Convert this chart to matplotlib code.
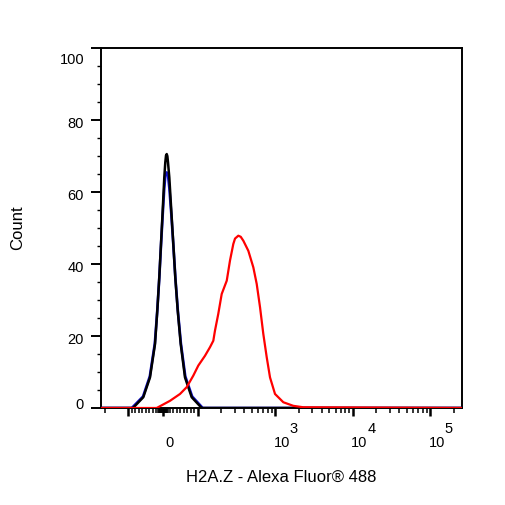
import numpy as np
import matplotlib
matplotlib.use('Agg')
import matplotlib.pyplot as plt
from matplotlib.transforms import ScaledTranslation

plt.rcParams['font.family'] = ['Liberation Sans', 'DejaVu Sans']

# ---- data (fluorescence value, count) ----
black_x = [-86.5, -56.8, -37.5, -23.0, -16.4, -10.7, -5.8, -0.9, 3.7, 6.6, 8.7, 10.7,
           12.6, 14.4, 18.2, 23.9, 29.7, 35.4, 42.4, 51.0, 63.4, 82.7, 112.6]
black_y = [0, 3.0, 8.5, 17.8, 27.1, 36.3, 45.6, 54.9, 64.1, 68.3, 70.2, 70.6,
           70.0, 68.3, 64.1, 54.9, 45.6, 36.3, 27.1, 17.8, 8.5, 3.0, 0]
blue_x = [-90, -57.5, -38, -23.5, -16.6, -10.8, -5.9, -1.0, 3.6, 6.6, 10.7,
          14.6, 18.4, 24.2, 30.0, 35.8, 42.8, 51.5, 64.2, 84.0, 116]
blue_y = [0, 3.2, 8.8, 18.0, 27.0, 36.0, 45.0, 53.5, 61.0, 64.5, 65.5,
          64.5, 61.0, 53.5, 45.0, 36.0, 27.0, 18.0, 8.8, 3.2, 0]
red_x = [-18.2, 20.2, 49.0, 68.3, 87.3, 101.8, 124, 144, 159, 167, 184, 204,
         237, 261, 288, 303, 334, 359, 388, 450, 522, 577, 637, 702, 777, 857, 994,
         1272, 1712, 2305]
red_y = [0, 2.0, 3.9, 5.8, 9.0, 11.8, 14.5, 16.9, 18.7, 21.5, 26.1, 31.7,
         35.4, 41.0, 45.6, 47.1, 47.9, 47.6, 46.5, 43.7, 39.1, 34.5, 28.0, 20.6, 14.1, 8.5, 3.9,
         1.6, 0.6, 0.2]

x_major = [-100, 0, 100, 1e3, 1e4, 1e5]
x_major_labels = ['', '0', '', '10', '10', '10']
exp_ticks = [1e3, 1e4, 1e5]
exp_labels = ['3', '4', '5']
y_major = [0, 20, 40, 60, 80, 100]

XLIM = (-225, 2.57e5)
YLIM = (0, 100)

fig = plt.figure(figsize=(5.06, 5.06), dpi=100)
W = H = 506
ax = fig.add_axes([101 / W, (H - 409) / H, (462 - 101) / W, (409 - 49.3) / H])
ax.set_xscale('symlog', linthresh=100, linscale=0.403, base=10)

def with_base(x, y):
    return np.r_[XLIM[0], x, XLIM[1]], np.r_[0, y, 0]

bx, by = with_base(blue_x, blue_y)
kx, ky = with_base(black_x, black_y)
rx, ry = with_base(red_x, red_y)
ax.plot(bx, by, color='#1010d0', lw=1.9, zorder=3, solid_joinstyle='round')
ax.plot(kx, ky, color='#000000', lw=1.8, zorder=4, solid_joinstyle='round')
ax.plot(rx, ry, color='#ff0000', lw=1.6, zorder=5, solid_joinstyle='round')

ax.set_xlim(*XLIM)
ax.set_ylim(*YLIM)

# x ticks
minor = ([-200] + list(range(-90, -15, 10)) + [v for v in range(-14, 15, 2) if v != 0]
         + list(range(20, 100, 10)) + list(range(200, 1000, 100))
         + list(range(2000, 10000, 1000)) + list(range(20000, 100000, 10000)) + [200000])
ax.set_xticks(x_major)
ax.set_xticklabels(x_major_labels)
ax.set_xticks(minor, minor=True)
ax.set_xticklabels([], minor=True)
ax.tick_params(axis='x', which='major', length=5.8, width=1.8, pad=13.5, labelsize=10.5)
ax.tick_params(axis='x', which='minor', length=3.4, width=1.1)

# y ticks
ax.set_yticks(y_major)
ax.set_yticks(np.arange(0, 101, 5), minor=True)
ax.tick_params(axis='y', which='major', length=7.2, width=1.4, pad=5, labelsize=10.5)
ax.tick_params(axis='y', which='minor', length=3.2, width=1.0)

for lab in ax.get_xticklabels():
    lab.set_transform(lab.get_transform() + ScaledTranslation(4.7 / 72, 0, fig.dpi_scale_trans))
ylabs = ax.get_yticklabels()
for i, lab in enumerate(ylabs):
    dy = -1.0
    if i == 0:
        dy = 3.6
    elif i == len(ylabs) - 1:
        dy = -6.5
    lab.set_transform(lab.get_transform() + ScaledTranslation(0, dy / 72, fig.dpi_scale_trans))

for v, e in zip(exp_ticks, exp_labels):
    ax.annotate(e, xy=(v, 0), xycoords=('data', 'axes fraction'),
                xytext=(13.3, -17.3), textcoords='offset points',
                ha='center', va='baseline', fontsize=10.5)

for s in ax.spines.values():
    s.set_linewidth(1.4)
    s.set_color('black')

ax.set_xlabel('H2A.Z - Alexa Fluor® 488', fontsize=12)
ax.xaxis.set_label_coords(0.5, -0.17)
ax.set_ylabel('Count', fontsize=12)
ax.yaxis.set_label_coords(-0.211, 0.503)

fig.savefig('out.png', dpi=100)
